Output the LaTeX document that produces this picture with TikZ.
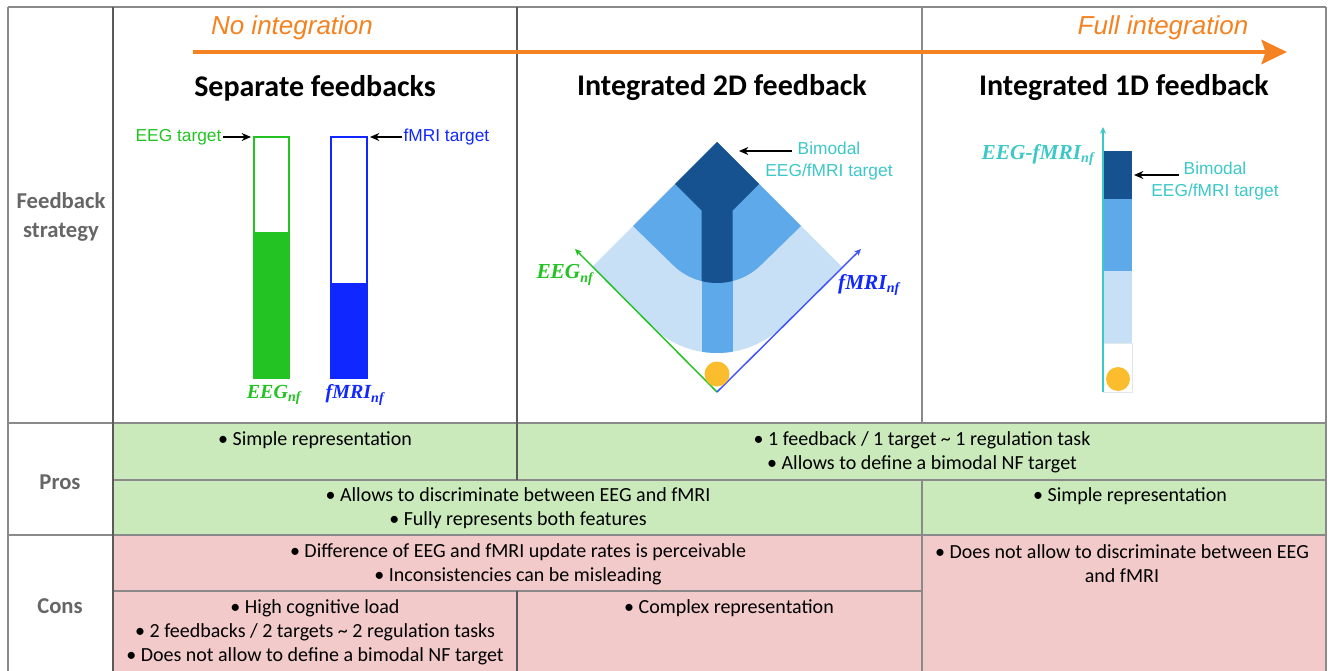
\documentclass[tikz,border=0pt]{standalone}
\usepackage{fontspec}
\setmainfont{Carlito}
\newfontfamily\arialfont{Liberation Sans}
\newfontfamily\timesfont{Liberation Serif}
\usetikzlibrary{arrows.meta}

\definecolor{gridc}{HTML}{8A8A8A}
\definecolor{gridd}{HTML}{5A5A5A}
\definecolor{prosg}{HTML}{CAEABC}
\definecolor{consp}{HTML}{F2CACA}
\definecolor{orng}{HTML}{F58220}
\definecolor{eegg}{HTML}{22C322}
\definecolor{fmrib}{HTML}{1028FF}
\definecolor{cyn}{HTML}{3CC8C8}
\definecolor{lblue}{HTML}{C8E0F6}
\definecolor{mblue}{HTML}{5DA9E9}
\definecolor{dblue}{HTML}{15528F}
\definecolor{gold}{HTML}{FBBD2E}
\definecolor{labgrey}{HTML}{666666}

\newcommand{\subnf}{\textsubscript{\fontsize{10.5}{10.5}\selectfont nf}}

\tikzset{
  cell/.style={align=center, inner sep=0pt, font=\fontsize{15}{18}\selectfont},
  lab/.style={align=center, inner sep=0pt, text=labgrey, font=\fontsize{17}{21.75}\selectfont\bfseries},
  head/.style={inner sep=0pt, font=\fontsize{22.5}{26}\selectfont\bfseries},
  integ/.style={inner sep=0pt, text=orng, font=\arialfont\itshape\fontsize{19.5}{23}\selectfont},
  tgt/.style={inner sep=1pt, font=\arialfont\fontsize{13}{16}\selectfont},
  bim/.style={align=center, inner sep=0pt, text=cyn, font=\arialfont\fontsize{13}{16.5}\selectfont},
  mlab/.style={inner sep=0pt, font=\timesfont\bfseries\itshape\fontsize{15}{16}\selectfont},
  mlabbig/.style={inner sep=0pt, font=\timesfont\bfseries\itshape\fontsize{16}{17}\selectfont},
  thin/.style={gridc, line width=1.1pt},
  thick/.style={gridd, line width=2.2pt},
  pointer/.style={black, line width=0.9pt, -{Stealth[length=7pt,width=6pt]}},
  axis/.style={line width=1.1pt, -{Stealth[length=5pt,width=4.5pt]}}
}

\begin{document}
\begin{tikzpicture}[x=0.75pt,y=-0.75pt]
\useasboundingbox (0,0) rectangle (1329,671);

% ---------- cell fills ----------
\fill[prosg] (113,423) rectangle (1326,535);
\fill[consp] (113,535) rectangle (1326,671);

% ---------- grid ----------
\draw[thin] (8,7) -- (1326,7);
\draw[thin] (8,423) -- (1326,423);
\draw[thin] (113,480) -- (1326,480);
\draw[thin] (8,535) -- (1326,535);
\draw[thin] (113,591) -- (922,591);
\draw[thin] (8,7) -- (8,671);
\draw[thin] (1326,7) -- (1326,671);
\draw[thin] (922,7) -- (922,423);
\draw[thin] (922,480) -- (922,671);
\draw[thick] (113,7) -- (113,671);
\draw[thick] (517,7) -- (517,480);
\draw[thick] (517,591) -- (517,671);

% ---------- row labels ----------
\node[lab] (fs) at (61,217) {Feedback\\strategy};
\node[lab] (pros) at (60,482) {Pros};
\node[lab] (cons) at (60,606) {Cons};

% ---------- integration arrow ----------
\node[integ] (noint) at (292,28) {No integration};
\node[integ] (fullint) at (1163,28) {Full integration};
\coordinate (arS) at (193,52);
\coordinate (arE) at (1287,52);
\draw[orng, line width=3.6pt, -{Stealth[length=19pt,width=18pt,inset=3pt]}] (arS) -- (arE);

% ---------- headings ----------
\node[head] (h1) at (315,88) {Separate feedbacks};
\node[head] (h2) at (722,88) {Integrated 2D feedback};
\node[head] (h3) at (1124,88) {Integrated 1D feedback};

% ---------- separate feedbacks ----------
\fill[eegg] (254,232) rectangle (289,378);
\draw[eegg, line width=1.2pt] (254,137) rectangle (289,378);
\fill[fmrib] (331,283) rectangle (367,378);
\draw[fmrib, line width=1.2pt] (331,137) rectangle (367,378);
\coordinate (eegtop) at (251,137);
\coordinate (fmritop) at (370,137);
\node[tgt, text=eegg, anchor=east] (eegt) at (223,137) {EEG target};
\node[tgt, text=fmrib, anchor=west] (fmrit) at (402,137) {fMRI target};
\draw[pointer] (eegt.east) -- (eegtop);
\draw[pointer] (fmrit.west) -- (fmritop);
\node[mlab, text=eegg] (eegnf) at (274,395) {EEG\subnf};
\node[mlab, text=fmrib] (fmrinf) at (355,395) {fMRI\subnf};

% ---------- integrated 2D ----------
\begin{scope}
  \fill[lblue] (592,267) -- (717,142) -- (842,267) -- (783.6,325.4)
      arc[start angle=45, end angle=135, radius=94.2] -- cycle;
  \clip (592,267) -- (717,142) -- (842,267) -- (783.6,325.4)
      arc[start angle=45, end angle=135, radius=94.2] -- cycle;
  \fill[mblue] (633,226) -- (717,142) -- (801,226) -- (761.4,264.6)
      arc[start angle=45, end angle=135, radius=62.8] -- cycle;
  \fill[mblue] (701.5,240) rectangle (732.5,370);
  \clip (633,226) -- (717,142) -- (801,226) -- (761.4,264.6)
      arc[start angle=45, end angle=135, radius=62.8] -- cycle;
  \fill[dblue] (675,184) -- (717,142) -- (759,184) -- (732.5,210.5)
      -- (732.5,300) -- (701.5,300) -- (701.5,210.5) -- cycle;
\end{scope}
\coordinate (orig) at (717,392);
\coordinate (eegax) at (575,249);
\coordinate (fmriax) at (861,249);
\draw[axis, eegg] (orig) -- (eegax);
\draw[axis, fmrib!80!white] (orig) -- (fmriax);
\fill[gold] (717,374) circle[radius=12.5];
\node[mlabbig, text=eegg] (eeg2) at (565,275) {EEG\subnf};
\node[mlabbig, text=fmrib] (fmri2) at (869,285) {fMRI\subnf};
\node[bim] (bim2) at (829,161) {Bimodal\\EEG/fMRI target};
\coordinate (bim2s) at (792,151);
\coordinate (bim2t) at (739,151);
\draw[pointer] (bim2s) -- (bim2t);

% ---------- integrated 1D ----------
\fill[dblue] (1103,151) rectangle (1132,199);
\fill[mblue] (1103,199) rectangle (1132,271);
\fill[lblue] (1103,271) rectangle (1132,343);
\draw[lblue!70!gray!40, line width=0.6pt] (1103,343) rectangle (1132,392);
\fill[gold] (1118,379) circle[radius=12];
\coordinate (ax1s) at (1103,392);
\coordinate (ax1e) at (1103,127);
\draw[axis, cyn] (ax1s) -- (ax1e);
\node[mlab, text=cyn, font=\timesfont\bfseries\itshape\fontsize{16}{17}\selectfont] (eegfmri) at (1038,155) {EEG-fMRI\subnf};
\node[bim] (bim1) at (1215,181) {Bimodal\\EEG/fMRI target};
\coordinate (bim1s) at (1179,175);
\coordinate (bim1t) at (1134,175);
\draw[pointer] (bim1s) -- (bim1t);

% ---------- cell texts ----------
\node[cell] (p1a) at (315,440) {• Simple representation};
\node[cell] (p1b) at (922,452) {• 1 feedback / 1 target \textasciitilde{} 1 regulation task\\• Allows to define a bimodal NF target};
\node[cell] (p2a) at (518,508) {• Allows to discriminate between EEG and fMRI\\• Fully represents both features};
\node[cell] (p2b) at (1130,496) {• Simple representation};
\node[cell] (c1a) at (518,564) {• Difference of EEG and fMRI update rates is perceivable\\• Inconsistencies can be misleading};
\node[cell] (c1b) at (1122,564) {• Does not allow to discriminate between EEG\\and fMRI};
\node[cell] (c2a) at (315,632) {• High cognitive load\\• 2 feedbacks / 2 targets \textasciitilde{} 2 regulation tasks\\• Does not allow to define a bimodal NF target};
\node[cell] (c2b) at (729,608) {• Complex representation};
\end{tikzpicture}
\end{document}
